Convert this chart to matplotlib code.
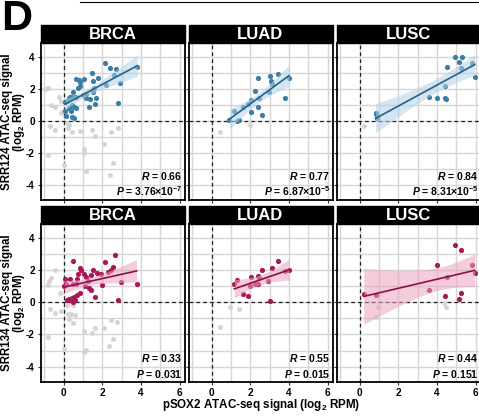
import numpy as np
import matplotlib
matplotlib.use("Agg")
import matplotlib.pyplot as plt
from matplotlib.patches import Rectangle

# ── data ──────────────────────────────────────────────────────────────────
CANCERS = ["BRCA", "LUAD", "LUSC"]

# SRR124 row: coloured (positive) points
brca124_x = [2.15, 2.38, 2.69, 3.80, 1.48, 1.79, 2.92, 0.64, 0.78, 1.06, 0.85, 1.51,
             0.82, 0.75, 0.50, 0.38, 0.26, 0.19, 0.09, 0.64, 1.55, 1.51, 1.16, 1.34,
             1.68, 1.13, 2.83, 1.30, 1.60, 0.43, 0.54, 0.66, 0.36, 0.09, 0.12, 0.42,
             2.60, 2.20, 0.31, 0.59, 1.00, 0.52, 0.30]
brca124_y = [3.58, 3.27, 3.23, 3.33, 2.98, 2.69, 2.38, 2.60, 2.54, 2.60, 2.40, 2.48,
             2.15, 2.04, 1.80, 1.50, 1.40, 1.25, 1.19, 1.50, 2.02, 1.81, 1.65, 1.35,
             1.40, 1.40, 1.08, 0.83, 1.02, 0.98, 0.83, 0.77, 0.60, 0.60, 0.31, 0.21,
             2.85, 2.23, 1.50, 1.46, 1.60, 0.17, 0.77]
luad124_x = [2.40, 3.00, 3.45, 4.00, 3.09, 3.10, 2.22, 2.95, 3.81, 2.47, 2.05, 1.90,
             1.60, 2.40, 2.05, 1.16, 2.60, 1.29, 1.43, 0.92]
luad124_y = [2.69, 2.81, 2.90, 2.69, 2.48, 2.29, 1.85, 1.81, 1.44, 1.44, 1.29, 1.04,
             0.88, 0.83, 0.52, 0.60, 0.35, 0.00, 0.06, 0.03]
lusc124_x = [4.94, 5.27, 5.15, 5.22, 4.54, 5.79, 5.95, 4.42, 3.60, 3.98, 4.43, 4.47,
             0.82, 0.83, 0.90]
lusc124_y = [4.00, 3.98, 3.67, 3.31, 3.33, 3.63, 2.73, 2.17, 1.48, 1.44, 1.40, 1.38,
             0.50, 0.40, 0.15]

# SRR124 row: grey (excluded) points
brca124_gx = [-0.80, -0.97, -0.65, -0.43, -0.23, -0.15, -0.12, -0.05, -0.72, -0.45,
              0.15, 0.30, 0.21, 0.45, 0.85, 1.46, 1.62, 2.47, 2.80, 2.07, 1.06, 1.04,
              -0.80, 0.00, 1.16, 2.57, 2.38]
brca124_gy = [2.05, 1.95, 0.95, 0.88, 1.45, 1.20, 0.45, 0.62, -0.33, -0.58,
              -0.15, -0.25, -0.48, -0.72, -0.63, -0.60, -0.96, -0.73, -0.43, -1.46,
              -1.75, -2.04, -2.15, -2.77, -3.13, -2.63, -3.42]
luad124_gx = [0.43, 2.00]
luad124_gy = [-0.69, -0.25]
lusc124_gx = [0.21]
lusc124_gy = [-0.31]

# SRR134 row: coloured points
brca134_x = [0.49, 2.15, 2.67, 2.55, 1.51, 2.47, 2.29, 1.74, 0.82, 0.90, 0.73, 1.04,
             1.42, 1.16, 0.68, 0.33, 0.09, 2.95, 3.77, 0.64, 0.47, 0.03, 0.12, 1.08,
             1.30, 1.42, 0.82, 0.68, 0.52, 1.60, 2.83, 0.17, 0.30, 0.42, 0.47, 1.95,
             1.25, 0.56, 2.00]
brca134_y = [2.54, 2.48, 2.92, 2.19, 1.98, 2.02, 1.88, 1.81, 2.13, 2.02, 1.77, 1.77,
             1.71, 1.56, 1.46, 1.46, 1.46, 1.23, 1.13, 1.15, 1.10, 1.02, 1.15, 0.98,
             0.88, 0.77, 0.56, 0.46, 0.31, 0.35, 0.15, 0.15, 0.19, 0.25, 0.04, 1.75,
             1.29, 0.15, 1.05]
luad134_x = [3.45, 2.60, 3.10, 3.78, 4.00, 2.05, 2.40, 2.43, 1.31, 1.17, 1.97, 2.26,
             2.40, 2.91, 1.60, 1.88, 3.02]
luad134_y = [2.58, 1.98, 2.13, 1.92, 1.98, 1.56, 1.65, 1.50, 1.40, 1.13, 1.02, 1.13,
             1.13, 1.29, 0.52, 0.40, 0.10]
lusc134_x = [4.94, 5.25, 3.98, 5.79, 5.95, 4.52, 3.60, 5.23, 4.42, 5.15, 0.21, 0.85]
lusc134_y = [3.54, 3.23, 2.33, 2.29, 1.81, 1.54, 0.73, 0.60, 0.40, 0.19, 0.52, 0.46]

# SRR134 row: grey points
brca134_gx = [-0.45, -0.66, -0.75, -0.83, -0.19, -0.71, -0.45, -0.16, 0.17, 0.47,
              0.21, 0.38, 0.56, 0.30, 0.47, 1.04, 1.48, 1.63, 2.07, 2.45, 2.78, 2.57,
              2.36, 1.16, 1.04, -0.80, 0.00]
brca134_gy = [2.02, 1.50, 1.33, 1.08, 0.56, -0.44, -0.69, -0.52, -0.17, -0.17,
              -0.73, -0.75, -0.79, -1.06, -1.31, -1.77, -1.88, -1.58, -1.63, -1.10,
              -1.25, -2.29, -2.71, -2.94, -3.10, -2.15, -2.92]
luad134_gx = [0.95, 1.43, 0.43]
luad134_gy = [-0.29, -0.44, -1.56]
lusc134_gx = [0.94, 0.82, 4.38, 4.47]
lusc134_gy = [-0.31, -0.90, -0.06, -0.31]

STATS_124 = [("0.66", r"3.76×10$^{\mathbf{-7}}$"),
             ("0.77", r"6.87×10$^{\mathbf{-5}}$"),
             ("0.84", r"8.31×10$^{\mathbf{-5}}$")]
STATS_134 = [("0.33", "0.031"), ("0.55", "0.015"), ("0.44", "0.151")]

ROWS = [
    dict(pts=[(brca124_x, brca124_y), (luad124_x, luad124_y), (lusc124_x, lusc124_y)],
         grey=[(brca124_gx, brca124_gy), (luad124_gx, luad124_gy), (lusc124_gx, lusc124_gy)],
         stats=STATS_124, pt="#3A7DA6", line="#25628A", band="#B3D1E6",
         ylabel="SRR124 ATAC-seq signal\n(log$_\\mathbf{2}$ RPM)"),
    dict(pts=[(brca134_x, brca134_y), (luad134_x, luad134_y), (lusc134_x, lusc134_y)],
         grey=[(brca134_gx, brca134_gy), (luad134_gx, luad134_gy), (lusc134_gx, lusc134_gy)],
         stats=STATS_134, pt="#A81758", line="#8A1147", band="#EBA3BE",
         ylabel="SRR134 ATAC-seq signal\n(log$_\\mathbf{2}$ RPM)"),
]

# ── style ─────────────────────────────────────────────────────────────────
plt.rcParams.update({
    "font.family": "Liberation Sans",
    "font.weight": "bold",
    "axes.unicode_minus": False,
    "mathtext.fontset": "custom",
    "mathtext.rm": "Liberation Sans:bold",
    "mathtext.bf": "Liberation Sans:bold",
    "mathtext.it": "Liberation Sans:bold:italic",
    "mathtext.bfit": "Liberation Sans:bold:italic",
})

W, H = 479, 419
GRID = "#D6D6D6"
GREY = "#D4D4D4"


def t975(df):
    z = 1.959964
    return (z + (z**3 + z) / (4 * df)
            + (5 * z**5 + 16 * z**3 + 3 * z) / (96 * df**2)
            + (3 * z**7 + 19 * z**5 + 17 * z**3 - 15 * z) / (384 * df**3))


def lm_band(x, y, n=80):
    x = np.asarray(x, float)
    y = np.asarray(y, float)
    b, a = np.polyfit(x, y, 1)
    xs = np.linspace(x.min(), x.max(), n)
    fit = a + b * xs
    df = len(x) - 2
    s = np.sqrt(np.sum((y - (a + b * x)) ** 2) / df)
    se = s * np.sqrt(1 / len(x) + (xs - x.mean()) ** 2 / np.sum((x - x.mean()) ** 2))
    t = t975(df)
    return xs, fit, fit - t * se, fit + t * se


def px_axes(left, top, right, bottom):
    return [left / W, 1 - bottom / H, (right - left) / W, (bottom - top) / H]


fig = plt.figure(figsize=(W / 100, H / 100), dpi=100)

COL_X = [(40.5, 184.5), (188.5, 332.5), (336.5, 480.5)]
ROW_Y = [(25, 43, 200), (206, 224, 382)]   # strip top, panel top, panel bottom

for r, row in enumerate(ROWS):
    st, pt, pb = ROW_Y[r]
    for c, name in enumerate(CANCERS):
        lx, rx = COL_X[c]
        ax = fig.add_axes(px_axes(lx, pt, rx, pb))
        ax.set_xlim(-1.2, 6.25)
        ax.set_ylim(-4.95, 4.85)
        ax.set_xticks([0, 2, 4, 6])
        ax.set_xticks([-1, 1, 3, 5], minor=True)
        ax.set_yticks([-4, -2, 0, 2, 4])
        ax.set_yticks([-3, -1, 1, 3], minor=True)
        ax.grid(True, which="both", color=GRID, linewidth=1.0, zorder=0)
        ax.set_axisbelow(True)
        ax.tick_params(which="major", length=2.5, width=0.8, color="#333333",
                       labelsize=7.2, pad=1.5)
        ax.tick_params(which="minor", length=0)
        if c > 0:
            ax.tick_params(labelleft=False)
        if r == 0:
            ax.tick_params(labelbottom=False)
        for sp in ax.spines.values():
            sp.set_linewidth(1.3)
            sp.set_color("black")

        ax.axvline(0, color="#222222", linestyle=(0, (3, 2.5)), linewidth=0.9, zorder=1)
        ax.axhline(0, color="#222222", linestyle=(0, (3, 2.5)), linewidth=0.9, zorder=1)

        gx, gy = row["grey"][c]
        ax.scatter(gx, gy, s=13, color=GREY, linewidths=0, zorder=2)
        x, y = row["pts"][c]
        ax.scatter(x, y, s=14, color=row["pt"], linewidths=0, zorder=3)

        xs, fit, lo, hi = lm_band(x, y)
        ax.fill_between(xs, lo, hi, color=row["band"], alpha=0.55, linewidth=0, zorder=4)
        ax.plot(xs, fit, color=row["line"], linewidth=1.2, zorder=5)

        rv, pv = row["stats"][c]
        ax.text(0.985, 0.115, r"$\mathit{R}$ = " + rv, transform=ax.transAxes,
                ha="right", va="bottom", fontsize=7.5, fontweight="bold")
        ax.text(0.985, 0.015, r"$\mathit{P}$ = " + pv, transform=ax.transAxes,
                ha="right", va="bottom", fontsize=7.5, fontweight="bold")

        # strip header
        sax = fig.add_axes(px_axes(lx, st, rx, pt))
        sax.set_xlim(0, 1)
        sax.set_ylim(0, 1)
        sax.axis("off")
        sax.add_patch(Rectangle((0, 0), 1, 1, facecolor="black", edgecolor="black",
                                transform=sax.transAxes, clip_on=False))
        sax.text(0.5, 0.45, name, color="white", ha="center", va="center",
                 fontsize=12, fontweight="bold")

    fig.text(14 / W, 1 - ((pt + pb) / 2) / H, row["ylabel"], rotation=90,
             ha="center", va="center", multialignment="center", fontsize=8.3,
             fontweight="bold", linespacing=0.85)

fig.text(261 / W, 1 - 405 / H, "pSOX2 ATAC-seq signal (log$_\\mathbf{2}$ RPM)",
         ha="center", va="center", fontsize=8.4, fontweight="bold")

# panel letter and the cut-off rule from the figure above
fig.text(1 / W, 1 - 19 / H, "D", ha="left", va="center", fontsize=31,
         fontweight="bold")
fig.add_artist(plt.Line2D([80 / W, 1.0], [1 - 2 / H, 1 - 2 / H],
                          color="black", linewidth=0.8))

fig.savefig("out.png", dpi=100)
